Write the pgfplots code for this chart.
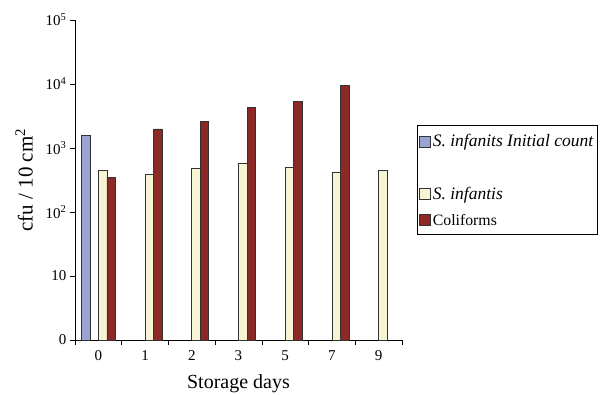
\documentclass[border=0pt]{standalone}
\usepackage{pgfplots}
\pgfplotsset{compat=1.18}
\usepackage{fontspec}
\setmainfont{Liberation Serif}
\definecolor{cblue}{RGB}{154,164,212}
\definecolor{ccream}{RGB}{246,244,210}
\definecolor{cred}{RGB}{140,40,38}
\begin{document}
\begin{tikzpicture}[x=1pt,y=1pt]
\begin{axis}[
  scale only axis,
  width=327pt, height=320pt,
  ymode=log,
  ymin=1, ymax=100000,
  xmin=-0.5, xmax=6.5,
  axis x line*=bottom,
  axis y line*=left,
  axis line style={-, line width=0.7pt},
  ytick={1,10,100,1000,10000,100000},
  yticklabels={0,10,10\textsuperscript{2},10\textsuperscript{3},10\textsuperscript{4},10\textsuperscript{5}},
  yminorticks=false,
  xtick={0,1,2,3,4,5,6},
  xticklabels={0,1,2,3,5,7,9},
  minor xtick={-0.5,0.5,1.5,2.5,3.5,4.5,5.5,6.5},
  major x tick style={draw=none},
  tick align=outside,
  major tick length=5pt,
  minor tick length=5pt,
  tick style={black, line width=0.7pt},
  ticklabel style={font=\fontsize{15}{18}\selectfont},
  xticklabel style={yshift=-2pt},
  xlabel={Storage days},
  ylabel={cfu / 10 cm\textsuperscript{2}},
  xlabel style={font=\fontsize{20}{22}\selectfont, yshift=-7pt},
  ylabel style={font=\fontsize{21}{23}\selectfont, yshift=6pt},
  ybar=0pt,
  bar width=0.182,
  clip=false,
  legend style={at={(1.046,0.672)}, anchor=north west, draw=black, line width=0.6pt,
    font=\fontsize{15.8}{21}\selectfont, row sep=6pt, inner xsep=2pt, inner ysep=5pt},
  legend cell align=left,
  legend image code/.code={\draw[#1, line width=0.5pt] (0pt,-6.5pt) rectangle (11pt,4.5pt);},
]
\addplot[fill=cblue, draw=black!80, line width=0.6pt] coordinates {(0,1560)};
\addlegendentry{\fontsize{17.5}{21}\selectfont\strut\textit{S. infanits Initial count}}
\addplot[draw=none, fill=none, legend image code/.code={}] coordinates {(0,1)};
\addlegendentry{\strut}
\addplot[fill=ccream, draw=black!80, line width=0.6pt] coordinates {(0,445) (1,385) (2,490) (3,585) (4,508) (5,424) (6,445)};
\addlegendentry{\fontsize{17.5}{21}\selectfont\strut\textit{S. infantis}}
\addplot[fill=cred, draw=black!80, line width=0.6pt] coordinates {(0,350) (1,1990) (2,2640) (3,4370) (4,5300) (5,9400)};
\addlegendentry{\strut Coliforms}
\coordinate (o) at (rel axis cs:0,0);
\end{axis}
\pgfresetboundingbox
\useasboundingbox (o) ++(-75pt,-55pt) rectangle ++(604pt,395pt);
\end{tikzpicture}
\end{document}
